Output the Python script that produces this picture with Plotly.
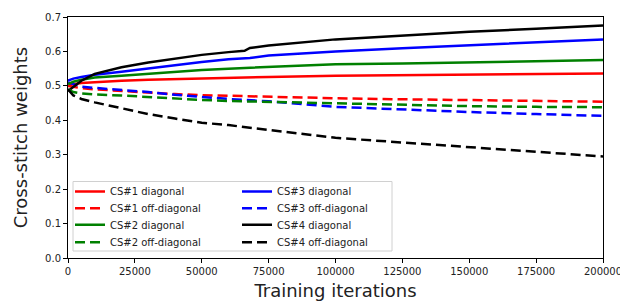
import plotly.graph_objects as go

iterations = [0, 2000, 5000, 10000, 20000, 30000, 40000, 50000, 60000, 66000, 68000,
              75000, 100000, 125000, 150000, 175000, 200000]

cs1_diag = [0.500, 0.505, 0.508, 0.511, 0.515, 0.518, 0.520, 0.522, 0.524, 0.525, 0.525,
            0.526, 0.529, 0.531, 0.533, 0.535, 0.536]
cs1_off = [0.500, 0.497, 0.493, 0.490, 0.485, 0.480, 0.476, 0.473, 0.471, 0.470, 0.469,
           0.468, 0.464, 0.461, 0.459, 0.456, 0.454]
cs2_diag = [0.505, 0.512, 0.518, 0.524, 0.529, 0.535, 0.541, 0.546, 0.550, 0.552, 0.552,
            0.555, 0.563, 0.565, 0.568, 0.572, 0.575]
cs2_off = [0.490, 0.482, 0.478, 0.475, 0.472, 0.467, 0.463, 0.459, 0.456, 0.455, 0.454,
           0.452, 0.448, 0.444, 0.441, 0.439, 0.438]
cs3_diag = [0.515, 0.521, 0.526, 0.532, 0.541, 0.551, 0.560, 0.569, 0.577, 0.580, 0.581,
            0.588, 0.600, 0.609, 0.618, 0.627, 0.635]
cs3_off = [0.510, 0.505, 0.498, 0.494, 0.489, 0.482, 0.474, 0.467, 0.462, 0.459, 0.458,
           0.455, 0.439, 0.431, 0.424, 0.418, 0.413]
cs4_diag = [0.485, 0.498, 0.515, 0.535, 0.554, 0.568, 0.580, 0.590, 0.598, 0.602, 0.610,
            0.617, 0.635, 0.647, 0.657, 0.666, 0.675]
cs4_off = [0.490, 0.472, 0.462, 0.452, 0.435, 0.418, 0.405, 0.393, 0.386, 0.381, 0.379,
           0.372, 0.349, 0.335, 0.322, 0.309, 0.295]

x_ticks = [0, 25000, 50000, 75000, 100000, 125000, 150000, 175000, 200000]
y_ticks = [0.0, 0.1, 0.2, 0.3, 0.4, 0.5, 0.6, 0.7]

# legend rows (matplotlib 2-column legend, row-major here)
series = [
    ("CS#1 diagonal", cs1_diag, "#ff0000", "solid", "legend"),
    ("CS#3 diagonal", cs3_diag, "#0000ff", "solid", "legend"),
    ("CS#1 off-diagonal", cs1_off, "#ff0000", "dash", "legend2"),
    ("CS#3 off-diagonal", cs3_off, "#0000ff", "dash", "legend2"),
    ("CS#2 diagonal", cs2_diag, "#008000", "solid", "legend3"),
    ("CS#4 diagonal", cs4_diag, "#000000", "solid", "legend3"),
    ("CS#2 off-diagonal", cs2_off, "#008000", "dash", "legend4"),
    ("CS#4 off-diagonal", cs4_off, "#000000", "dash", "legend4"),
]

fig = go.Figure()
for name, vals, color, dash, leg in series:
    fig.add_trace(go.Scatter(
        x=iterations, y=vals, mode="lines", name=name, legend=leg,
        line=dict(color=color, width=2.5, dash="10px,5px" if dash == "dash" else "solid"),
    ))

# page has an 8px body margin: figure is 620x293 placed at (8, 8)
W, HT = 620, 293
L, R, T, B = 60, 25, 9, 43
H = HT - T - B
PW = W - L - R


def py(p_page):
    return (HT - B - (p_page - 8)) / H


def legend_row(center_px):
    return dict(
        orientation="h", entrywidth=122, entrywidthmode="pixels",
        bgcolor="rgba(0,0,0,0)", borderwidth=0,
        font=dict(family="DejaVu Sans", size=10, color="#222222"),
        x=2 / PW, xanchor="left", y=py(center_px - 13), yanchor="top",
        itemwidth=30, tracegroupgap=0,
    )


fig.update_layout(
    width=W, height=HT,
    margin=dict(l=L, r=R, t=T, b=B, autoexpand=False),
    paper_bgcolor="white", plot_bgcolor="white",
    font=dict(family="DejaVu Sans", color="#222222"),
    showlegend=True,
    legend=legend_row(190),
    legend2=legend_row(206.7),
    legend3=legend_row(223.3),
    legend4=legend_row(240.7),
    shapes=[dict(
        type="rect", xref="paper", yref="paper",
        x0=5 / PW, x1=324 / PW, y0=py(251), y1=py(181.5),
        line=dict(color="#d0d0d0", width=1), fillcolor="rgba(255,255,255,0.85)", layer="above",
    )],
    xaxis=dict(
        range=[0, 200000], tickvals=x_ticks, ticktext=[str(v) for v in x_ticks],
        showgrid=False, zeroline=False, showline=True, mirror=True, linecolor="#000000", linewidth=1,
        ticks="outside", ticklen=4, tickcolor="#000000", tickfont=dict(size=10),
        title=dict(text="Training iterations", font=dict(size=18), standoff=9),
        automargin=False,
    ),
    yaxis=dict(
        range=[0, 0.7], tickvals=y_ticks, ticktext=["%.1f" % v for v in y_ticks],
        showgrid=False, zeroline=False, showline=True, mirror=True, linecolor="#000000", linewidth=1,
        ticks="outside", ticklen=4, tickcolor="#000000", tickfont=dict(size=10),
        title=dict(text="Cross-stitch weights", font=dict(size=18), standoff=12),
        automargin=False,
    ),
)

fig.write_html("out.html")
